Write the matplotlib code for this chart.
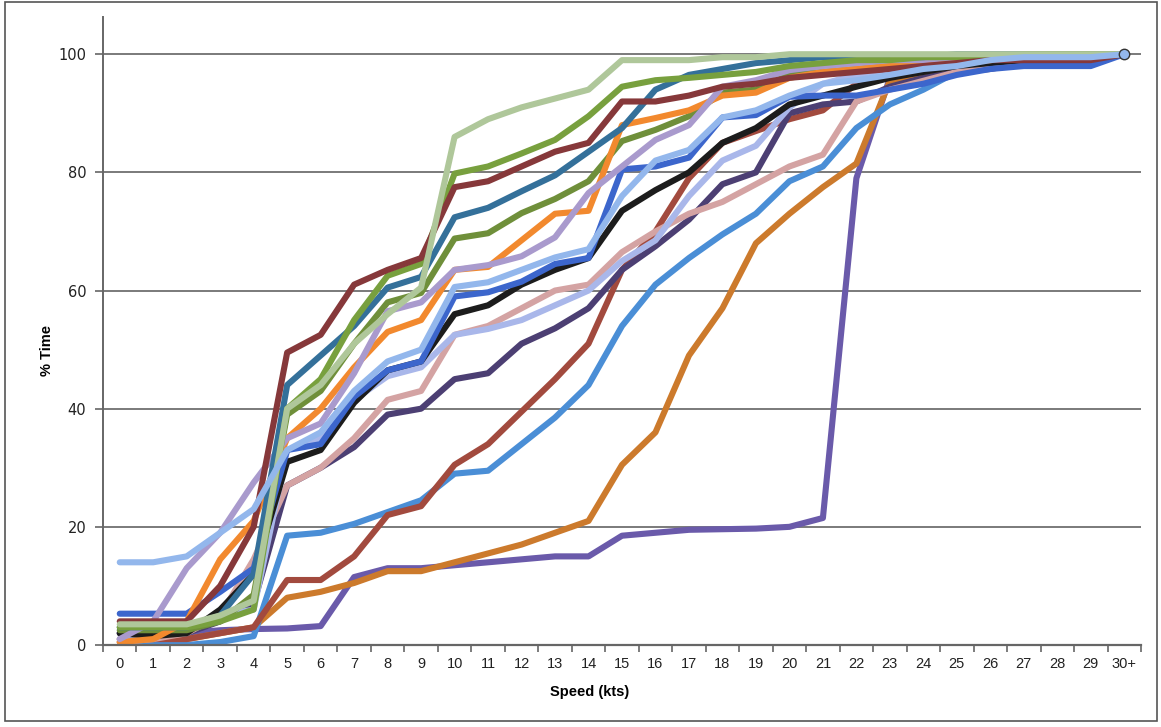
import matplotlib
matplotlib.use("Agg")
import matplotlib.pyplot as plt
from matplotlib.patches import Rectangle

speeds = [str(i) for i in range(30)] + ["30+"]

royal_blue = [5.3,5.3,5.3,9,13, 33,34,42,46.5,48,59,59.7,61.5,64.5,65.5,80.5,81,82.5,89.3,89.7,92.8,93,93,94,95,96.5,97.5,98,98,98,100]
maroon = [4,4,4,10,20, 49.5,52.5,61,63.5,65.5,77.5,78.5,81,83.5,85,92,92,93,94.5,95,96,96.5,97,97.5,98,98.5,99,99,99,99,100]
green_bright = [3,3,3,4,6, 40,45,55,62.5,64.5,79.8,81,83.2,85.5,89.5,94.5,95.6,96,96.5,97,98,98.5,99,99,99.5,99.5,99.5,100,100,100,100]
green_dark = [2.5,2.5,2.5,4,8.5, 39,43,51,58,59.6,68.8,69.7,73.1,75.5,78.5,85.3,87.2,89.5,93.5,94,96.5,97,97.5,98,98.5,99,99,99.5,99.5,99.5,100]
sage = [3.5,3.5,3.5,5,7.5, 40,44,51,56,60.5,86,89,91,92.5,94,99,99,99,99.5,99.5,100,100,100,100,100,100,100,100,100,100,100]
teal = [3,3,3,5,12, 44,49,54,60.5,62.3,72.4,74,76.8,79.5,83.5,87.5,94,96.5,97.5,98.5,99,99.5,99.5,99.5,99.5,100,100,100,100,100,100]
orange = [0.5,1,4,14.5,21, 35,40,47,53,55,63.5,64,68.5,73,73.5,88,89.2,90.5,93,93.5,96,97,97.5,98,98.5,99,99,99.5,99.5,99.5,100]
lavender = [1,4,13,19,27.5, 35,37.5,46,56.5,58,63.5,64.3,65.8,69,76.5,81,85.5,88,94.5,95.6,97.3,98,98.5,99,99,99.5,99.5,99.5,99.5,99.5,100]
sky = [14,14,15,19,23, 33,36,43,48,50,60.6,61.4,63.5,65.6,67,76,82,83.8,89.3,90.5,93,95,95.6,96.5,97.5,98,99,99.5,99.5,99.5,100]
periwinkle = [1,1.5,3,5,6, 33,35,41.5,45.5,47,52.5,53.5,55,57.5,60,65,68.5,76,82,84.5,91,95,96.5,97.5,98,98.5,99,99.5,99.5,99.5,100]
black = [2,1.5,2,6,12, 31,33,41,46.5,48,56,57.5,61,63.5,65.5,73.5,77,80,85,87.5,91.5,93,94.5,96,97,98,98.5,99,99.5,99.5,100]
pink = [0.5,1,2,5,14.5, 27,30,35,41.5,43,52.5,54,57,60,61,66.5,70,73,75,78,81,83,92,94,95.5,97,98,99,99,99.5,100]
navy = [2,2,2,4,7, 27,30,33.5,39,40,45,46,51,53.6,57,63.5,67.5,72,78,80,90,91.5,92,94.5,96,97,97.5,98.5,99,99.5,100]
brown = [1,1,1,2,3, 11,11,15,22,23.5,30.5,34,39.5,45,51,63.5,70,79,85,87,89,90.5,95,96.5,97.5,98,99,99,99.5,99.5,100]
medium_blue = [0,0,0,0.5,1.5, 18.5,19,20.5,22.5,24.5,29,29.5,34,38.5,44,54,61,65.5,69.5,73,78.5,81,87.5,91.5,94,97,98,99,99.5,99.5,100]
orange_brown = [0.5,0.5,1,2,3, 8,9,10.5,12.5,12.5,14,15.5,17,19,21,30.5,36,49,57,68,73,77.5,81.5,95.5,96.5,97.5,98.5,99,99.5,99.5,100]
purple = [2,2,2,2.5,2.7, 2.8,3.2,11.5,13,13,13.5,14,14.5,15,15,18.5,19,19.5,19.6,19.7,20,21.5,79,96,97,98,98.5,99,99.5,99.5,100]

series = [
    (purple, "#6A5AAA"),
    (orange_brown, "#CC7A2C"),
    (medium_blue, "#4A8ED6"),
    (brown, "#A24A3E"),
    (navy, "#4C3F73"),
    (pink, "#D4A3A3"),
    (periwinkle, "#A9B7EA"),
    (black, "#1C1C1C"),
    (royal_blue, "#3C66CC"),
    (green_dark, "#6F8F3A"),
    (orange, "#F2892E"),
    (lavender, "#A99ACD"),
    (teal, "#34709A"),
    (green_bright, "#78A03E"),
    (maroon, "#86383A"),
    (sage, "#AFC79A"),
    (sky, "#93B7EC"),
]

W, H = 1161, 727
fig = plt.figure(figsize=(W/100, H/100), dpi=100)
fig.patches.append(Rectangle((5/W, 1 - 721/H), (1157-5)/W, (721-2)/H,
                             transform=fig.transFigure, fill=False,
                             edgecolor="#555555", linewidth=1.2))

ax_left, ax_right = 103/W, 1141/W
ax_bottom, ax_top = 1 - 645/H, 1 - 17/H
ax = fig.add_axes([ax_left, ax_bottom, ax_right-ax_left, ax_top-ax_bottom])

x = list(range(len(speeds)))
for vals, col in series:
    ax.plot(x, vals, color=col, linewidth=4.4, solid_joinstyle="round",
            solid_capstyle="round")
ax.plot([x[-1]], [sky[-1]], marker="o", markersize=7.5, markerfacecolor="#93B7EC",
        markeredgecolor="#333333", markeredgewidth=1.0, linestyle="none")

ax.set_xlim(-0.5, 30.5)
ax.set_ylim(0, 106.3)
ax.set_yticks([0, 20, 40, 60, 80, 100])
for yv in [20, 40, 60, 80, 100]:
    ax.axhline(yv, color="#7a7a7a", linewidth=1.4, zorder=0)

ax.set_xticks(x)
ax.set_xticklabels(speeds)
ax.set_xticks([i - 0.5 for i in range(32)], minor=True)
ax.tick_params(axis="x", which="major", length=0, pad=9, labelsize=10.5, colors="#222222")
ax.tick_params(axis="x", which="minor", length=5, width=1.2, direction="out", color="#666666")
ax.tick_params(axis="y", which="major", length=6, width=1.2, direction="out",
               color="#666666", labelsize=10.5, pad=6, labelcolor="#222222")

for lab in ax.get_xticklabels():
    lab.set_family(["Liberation Sans Narrow", "Liberation Sans", "DejaVu Sans"])
for lab in ax.get_yticklabels():
    lab.set_family(["DejaVu Sans"])

for s in ["top", "right"]:
    ax.spines[s].set_visible(False)
ax.spines["left"].set_color("#666666")
ax.spines["left"].set_linewidth(1.4)
ax.spines["bottom"].set_color("#666666")
ax.spines["bottom"].set_linewidth(1.6)

fig.text(47/W, 1 - 350/H, "% Time", rotation=90, ha="center", va="center",
         fontsize=10.5, fontweight="bold",
         family=["Liberation Sans Narrow", "Liberation Sans", "DejaVu Sans"])
fig.text(590/W, 1 - 692/H, "Speed (kts)", ha="center", va="center",
         fontsize=10.5, fontweight="bold",
         family=["Liberation Sans Narrow", "Liberation Sans", "DejaVu Sans"])

fig.savefig("out.png", dpi=100)
